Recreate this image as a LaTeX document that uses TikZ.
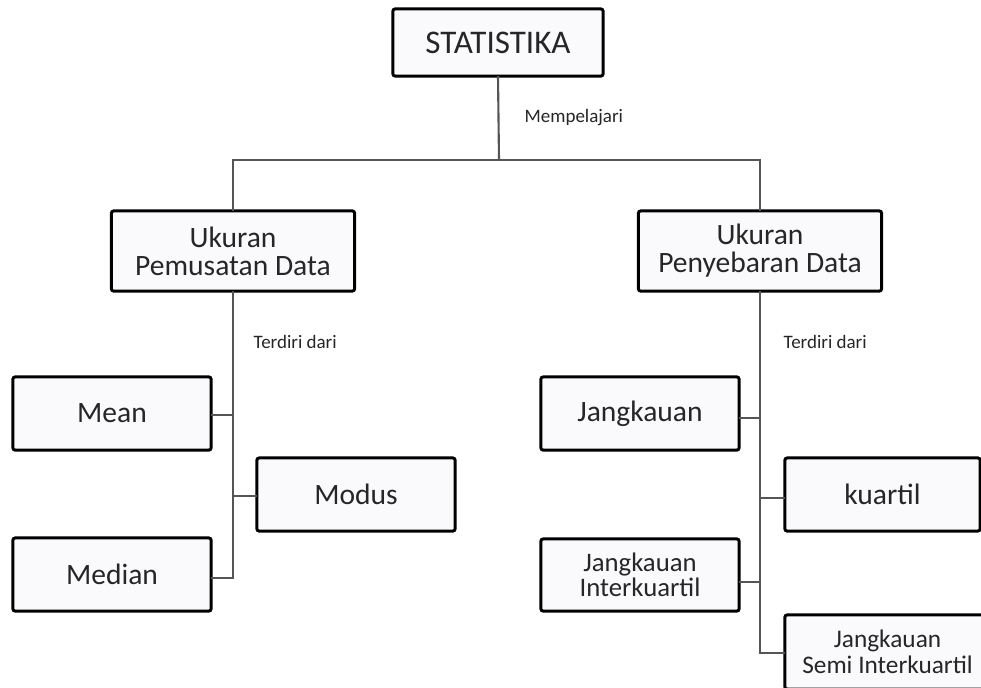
\documentclass[tikz,border=0pt]{standalone}
\usepackage{fontspec}
\setmainfont{Carlito}
\definecolor{boxfill}{HTML}{FAFAFD}
\definecolor{linegray}{HTML}{555555}
\definecolor{txt}{HTML}{262626}
\begin{document}
\begin{tikzpicture}[x=0.01cm,y=-0.01cm,
  box/.style={draw=black, line width=0.85pt, rounded corners=0.6pt, fill=boxfill,
    inner sep=0pt, outer sep=0pt, align=center, text=txt},
  conn/.style={draw=linegray, line width=0.6pt},
  lbl/.style={anchor=west, inner sep=0pt, text=txt, font=\fontsize{5.4}{6}\selectfont}]
\useasboundingbox (0,0) rectangle (981,687);
\clip (0,0) rectangle (981,687);
\fill[white] (0,0) rectangle (981,687);

\node[box, minimum width=2.10cm, minimum height=0.67cm, font=\fontsize{9.4}{10}\selectfont] (stat) at (498,42.5) {STATISTIKA};

\node[box, minimum width=2.43cm, minimum height=0.80cm, font=\fontsize{8.4}{8}\selectfont] (ukp) at (233,251) {Ukuran\\Pemusatan Data};
\node[box, minimum width=2.43cm, minimum height=0.80cm, font=\fontsize{8.4}{8}\selectfont] (uks) at (760,251) {Ukuran\\Penyebaran Data};

\node[box, minimum width=1.98cm, minimum height=0.73cm, font=\fontsize{8.4}{9}\selectfont] (mean) at (112,413.5) {Mean};
\node[box, minimum width=1.98cm, minimum height=0.73cm, font=\fontsize{8.4}{9}\selectfont] (modus) at (356,494.5) {Modus};
\node[box, minimum width=1.98cm, minimum height=0.73cm, font=\fontsize{8.4}{9}\selectfont] (median) at (112,574.5) {Median};

\node[box, minimum width=1.98cm, minimum height=0.73cm, font=\fontsize{8.4}{9}\selectfont] (jang) at (640,413.5) {Jangkauan};
\node[box, minimum width=1.95cm, minimum height=0.73cm, font=\fontsize{8.4}{9}\selectfont] (kuartil) at (882.5,494.5) {kuartil};
\node[box, minimum width=1.98cm, minimum height=0.72cm, font=\fontsize{7.6}{7.1}\selectfont] (jint) at (640,575) {Jangkauan\\Interkuartil};
\node[box, minimum width=2.05cm, minimum height=0.74cm, font=\fontsize{7.2}{6.2}\selectfont] (semi) at (887.5,652) {Jangkauan\\Semi Interkuartil};

\node[lbl] (lmem) at (524,118) {Mempelajari};
\node[lbl] (lter1) at (253,342) {Terdiri dari};
\node[lbl] (lter2) at (783,342) {Terdiri dari};

\coordinate (bus) at (499,160);
\draw[conn] (stat.south) -- (bus);
\draw[conn] (ukp.north) |- (bus) -| (uks.north);

\draw[conn] (ukp.south) |- ([yshift=-1pt]median.east);
\draw[conn] ([yshift=-0.4pt]mean.east) -- ([yshift=-0.4pt]mean.east -| ukp.south);
\draw[conn] ([yshift=-0.4pt]modus.west) -- ([yshift=-0.4pt]modus.west -| ukp.south);

\draw[conn] (uks.south) |- ([yshift=-0.4pt]semi.west);
\draw[conn] ([yshift=-1.2pt]jang.east) -- ([yshift=-1.2pt]jang.east -| uks.south);
\draw[conn] ([yshift=-1pt]kuartil.west) -- ([yshift=-1pt]kuartil.west -| uks.south);
\draw[conn] ([yshift=-2pt]jint.east) -- ([yshift=-2pt]jint.east -| uks.south);
\end{tikzpicture}
\end{document}
